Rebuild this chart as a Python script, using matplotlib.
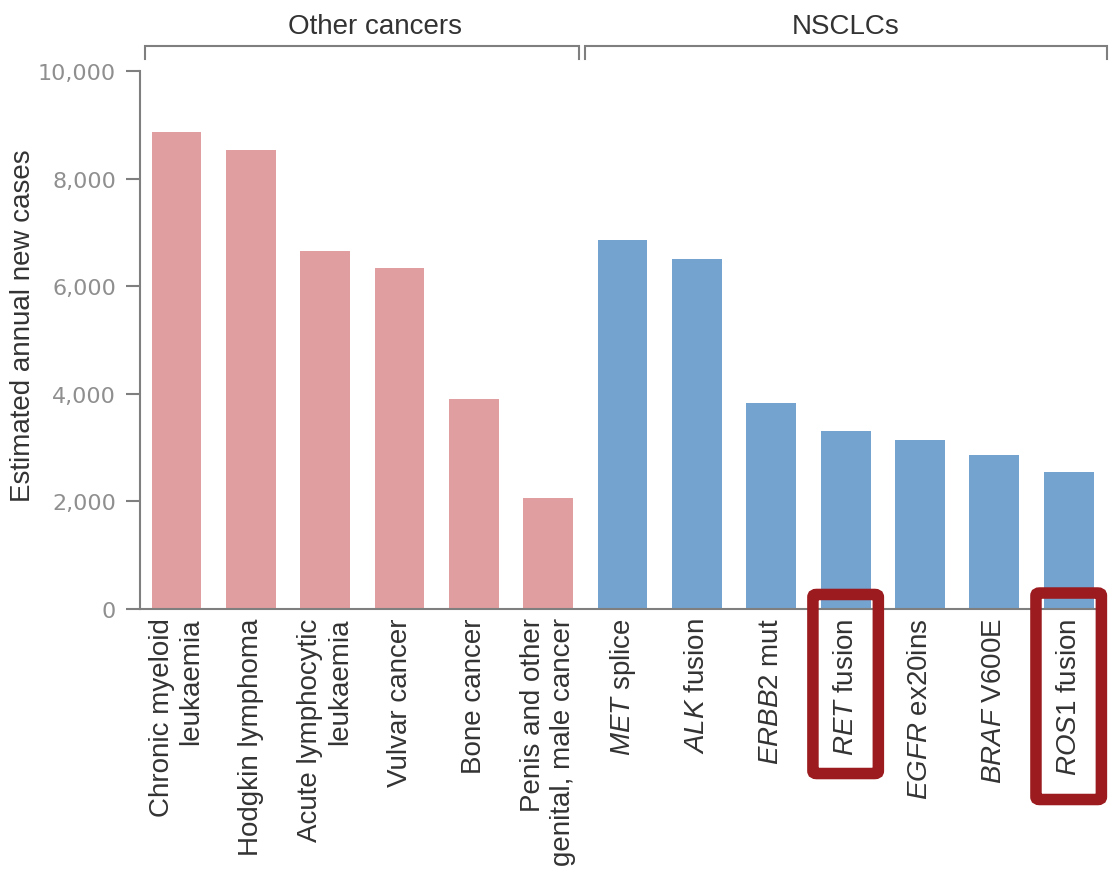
import matplotlib
matplotlib.use("Agg")
import matplotlib.pyplot as plt
from matplotlib.patches import FancyBboxPatch

plt.rcParams['font.family'] = ['Liberation Sans', 'DejaVu Sans']
plt.rcParams['mathtext.fontset'] = 'custom'
plt.rcParams['mathtext.rm'] = 'Liberation Sans'
plt.rcParams['mathtext.it'] = 'Liberation Sans:italic'

# ---- data ----
other_labels = ["Chronic myeloid\nleukaemia", "Hodgkin lymphoma", "Acute lymphocytic\nleukaemia",
                "Vulvar cancer", "Bone cancer", "Penis and other\ngenital, male cancer"]
other_values = [8870, 8540, 6660, 6330, 3900, 2060]
nsclc_labels = [r"$\mathit{MET}$ splice", r"$\mathit{ALK}$ fusion", r"$\mathit{ERBB2}$ mut",
                r"$\mathit{RET}$ fusion", r"$\mathit{EGFR}$ ex20ins", r"$\mathit{BRAF}$ V600E",
                r"$\mathit{ROS1}$ fusion"]
nsclc_values = [6850, 6510, 3830, 3300, 3140, 2860, 2550]
group_names = ["Other cancers", "NSCLCs"]
highlighted = [r"$\mathit{RET}$ fusion", r"$\mathit{ROS1}$ fusion"]
yticks = [0, 2000, 4000, 6000, 8000, 10000]

pink = "#e19ea0"
blue = "#74a3d0"
grey = "#7f7f7f"
dark = "#333333"
red = "#9b1b1f"

W, H = 1115, 879
fig = plt.figure(figsize=(W / 100, H / 100), dpi=100)
ax = fig.add_axes([139.7 / W, 269 / H, 955.3 / W, 538 / H])

labels = other_labels + nsclc_labels
values = other_values + nsclc_values
colors = [pink] * len(other_values) + [blue] * len(nsclc_values)
x = list(range(len(values)))
ax.bar(x, values, width=0.67, color=colors, zorder=2)

ax.set_xlim(-0.495, 12.354)
ax.set_ylim(0, 10000)
ax.set_yticks(yticks)
ax.set_yticklabels([f"{v:,}" for v in yticks], fontfamily='DejaVu Sans')
ax.tick_params(axis='y', labelsize=16, labelcolor="#8f8f8f", color=grey,
               length=10, width=1.5, pad=7)
ax.tick_params(axis='x', length=0, pad=6)
ax.set_xticks(x)
ax.set_xticklabels(labels, rotation=90, fontsize=20, color=dark,
                   va='top', ha='center', multialignment='right')
for s in ['top', 'right']:
    ax.spines[s].set_visible(False)
for s in ['left', 'bottom']:
    ax.spines[s].set_color(grey)
    ax.spines[s].set_linewidth(1.5)

ax.set_ylabel("Estimated annual new cases", fontsize=20, color=dark)
ax.yaxis.set_label_coords(-0.1085, 0.528)

# group brackets
n_other = len(other_values)
groups = [(0, n_other - 1, -0.43, 0.41, 2.67), (n_other, len(values) - 1, -0.51, 0.52, 9.0)]
y_top, y_end, y_txt = 10465, 10223, 10836
for (a, b, lo, hi, tx), name in zip(groups, group_names):
    ax.plot([a + lo, a + lo, b + hi, b + hi], [y_end, y_top, y_top, y_end],
            color=grey, lw=1.5, clip_on=False, solid_joinstyle='miter')
    ax.text(tx, y_txt, name, ha='center', va='center', fontsize=20, color=dark)

# red highlight boxes
box_specs = {r"$\mathit{RET}$ fusion": (270, -3058), r"$\mathit{ROS1}$ fusion": (297, -3541)}
for lab in highlighted:
    i = labels.index(lab)
    top, bot = box_specs[lab]
    p = FancyBboxPatch((i - 0.44, bot), 0.88, top - bot,
                       boxstyle="round,pad=0,rounding_size=0.05",
                       fill=False, edgecolor=red, lw=8.3, clip_on=False, zorder=5,
                       mutation_aspect=1000)
    ax.add_patch(p)

fig.savefig("out.png", dpi=100)
